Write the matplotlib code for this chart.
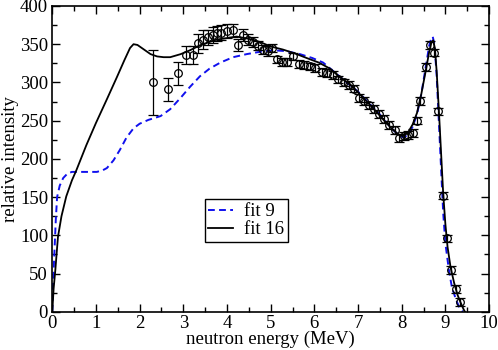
import matplotlib
matplotlib.use("Agg")
import matplotlib.pyplot as plt
from matplotlib.ticker import MultipleLocator

plt.rcParams['font.family'] = ['Liberation Serif', 'DejaVu Serif']
plt.rcParams['mathtext.fontset'] = 'stix'

# measured data
data_x = [2.31, 2.65, 2.88, 3.06, 3.22, 3.34, 3.45, 3.57, 3.68, 3.78, 3.87, 3.99,
          4.14, 4.25, 4.37, 4.48, 4.60, 4.71, 4.83, 4.94, 5.02, 5.14, 5.26, 5.37,
          5.52, 5.65, 5.76, 5.90, 6.02, 6.17, 6.30, 6.42, 6.55, 6.68, 6.80, 6.91,
          7.02, 7.13, 7.25, 7.36, 7.48, 7.60, 7.72, 7.84, 7.94, 8.05, 8.15, 8.25,
          8.34, 8.43, 8.56, 8.64, 8.75, 8.83, 8.95, 9.03, 9.13, 9.24, 9.34]
data_y = [300, 291, 312, 336, 336, 351, 356, 359, 362, 364, 365, 367,
          368, 349, 362, 356, 353, 348, 343, 341, 345, 330, 327, 327,
          334, 324, 323, 321, 319, 314, 312, 310, 304, 300, 297, 292,
          280, 276, 270, 265, 259, 252, 244, 238, 227, 230, 231, 234,
          250, 276, 320, 349, 339, 262, 152, 96, 55, 30, 13]
data_err = [43, 15, 15, 12, 12, 12, 12, 10, 10, 10, 10, 9,
            9, 8, 8, 7, 7, 6, 6, 6, 5, 5, 5, 5,
            5, 5, 5, 5, 5, 5, 5, 5, 5, 5, 5, 5,
            5, 5, 5, 5, 5, 5, 5, 5, 5, 5, 5, 5,
            5, 5, 5, 5, 5, 5, 5, 5, 5, 5, 5]

# fit 9 (blue dashed)
fit9_x = [0, 0.02, 0.05, 0.08, 0.11, 0.17, 0.25, 0.35, 0.45, 0.63, 0.85, 1.02,
          1.15, 1.25, 1.4, 1.55, 1.7, 1.86, 2.0, 2.2, 2.48, 2.7, 2.94, 3.15,
          3.38, 3.6, 3.85, 4.14, 4.45, 4.75, 5.06, 5.35, 5.67, 5.95, 6.2, 6.45,
          6.74, 7.0, 7.25, 7.5, 7.75, 7.95, 8.05, 8.15, 8.25, 8.35, 8.45, 8.55,
          8.63, 8.68, 8.71, 8.75, 8.8, 8.85, 8.9, 8.95, 9.0, 9.08, 9.15, 9.25,
          9.32, 9.4]
fit9_y = [0, 40, 80, 120, 150, 165, 175, 181, 183, 183, 183, 183,
          185, 188, 198, 212, 228, 240, 246, 251, 256, 265, 280, 294,
          308, 318, 326, 333, 337, 340, 342, 341, 337, 332, 326, 314,
          300, 288, 273, 258, 241, 230, 228, 232, 242, 258, 285, 320,
          348, 358, 360, 350, 310, 250, 190, 130, 90, 55, 32, 15,
          6, 0]

# fit 16 (black solid)
fit16_x = [0, 0.03, 0.07, 0.13, 0.21, 0.32, 0.45, 0.55, 0.78, 1.0, 1.25, 1.48,
           1.65, 1.78, 1.86, 1.95, 2.1, 2.25, 2.4, 2.55, 2.7, 2.94, 3.15, 3.4,
           3.76, 4.0, 4.22, 4.5, 4.75, 5.0, 5.28, 5.55, 5.82, 6.1, 6.36, 6.6,
           6.81, 7.0, 7.2, 7.4, 7.6, 7.8, 7.95, 8.05, 8.15, 8.25, 8.35, 8.45,
           8.55, 8.63, 8.68, 8.72, 8.76, 8.8, 8.85, 8.9, 8.95, 9.0, 9.05, 9.12,
           9.2, 9.28, 9.35, 9.42, 9.45]
fit16_y = [0, 30, 55, 98, 125, 151, 172, 185, 218, 247, 278, 307,
           329, 345, 350, 349, 343, 337, 334, 333, 333, 337, 342, 349,
           356, 358, 360, 357, 353, 347, 343, 338, 332, 326, 318, 306,
           298, 287, 275, 263, 250, 238, 231, 230, 235, 245, 260, 285,
           315, 340, 352, 355, 345, 315, 265, 210, 155, 115, 85, 58,
           38, 22, 12, 3, 0]

fig = plt.figure(figsize=(4.98, 3.5), dpi=100)
ax = fig.add_axes([0.105, 0.109, 0.877, 0.874])

ax.plot(fit9_x, fit9_y, color='#1010ee', linestyle=(0, (3.5, 2.2)), lw=1.4, label='fit 9')
ax.plot(fit16_x, fit16_y, color='black', lw=1.3, label='fit 16')
ax.errorbar(data_x, data_y, yerr=data_err, fmt='o', mfc='none', mec='black',
            ms=5.5, mew=0.9, ecolor='black', elinewidth=0.9, capsize=3.5,
            capthick=0.9, color='black')

ax.set_xlim(0, 10)
ax.set_ylim(0, 400)
ax.xaxis.set_major_locator(MultipleLocator(1))
ax.xaxis.set_minor_locator(MultipleLocator(0.5))
ax.yaxis.set_major_locator(MultipleLocator(50))
ax.yaxis.set_minor_locator(MultipleLocator(25))
ax.tick_params(which='both', direction='in', top=True, right=True, labelsize=13.5,
               width=1.0)
ax.tick_params(axis='x', which='both', pad=2.0)
ax.tick_params(axis='y', which='both', pad=3.0)
ax.tick_params(which='major', length=6)
ax.tick_params(which='minor', length=3.5)
for s in ax.spines.values():
    s.set_linewidth(1.2)

ax.set_xlabel('neutron energy (MeV)', fontsize=13.5, labelpad=-1)
ax.set_ylabel('relative intensity', fontsize=13.5, labelpad=1)

leg = ax.legend(loc='lower left', bbox_to_anchor=(0.349, 0.228), fontsize=13.5,
                frameon=True, fancybox=False, edgecolor='black', framealpha=1,
                handlelength=1.3, handletextpad=0.6, borderpad=0.2,
                labelspacing=0.05, borderaxespad=0)
leg.get_frame().set_linewidth(1.0)

fig.savefig('out.png', dpi=100)
